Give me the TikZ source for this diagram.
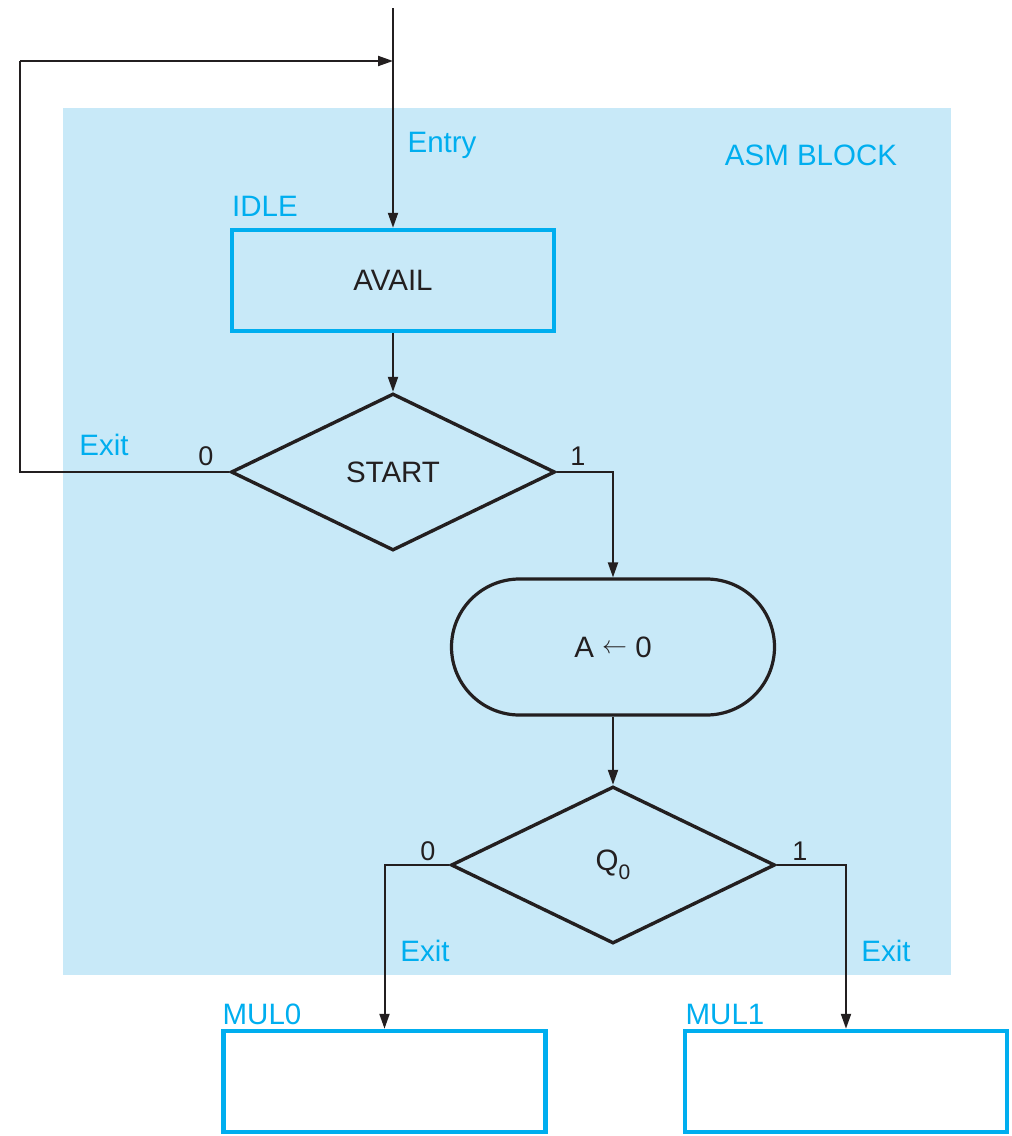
\documentclass[tikz,border=0pt]{standalone}
\usepackage{fontspec}
\setmainfont{Liberation Sans}
\usetikzlibrary{arrows.meta,shapes.geometric}
\definecolor{bgblue}{HTML}{C8E9F8}
\definecolor{cy}{HTML}{00AEEF}
\definecolor{ink}{HTML}{231F20}
\begin{document}
\begin{tikzpicture}[x=1pt,y=-1pt,
  txt/.style={font=\fontsize{29.5}{32}\selectfont, text=ink},
  cylab/.style={font=\fontsize{29.5}{32}\selectfont, text=cy, inner sep=0pt},
  numlab/.style={font=\fontsize{27}{30}\selectfont, text=ink, inner sep=0pt},
  statebox/.style={draw=cy, line width=4.5pt, minimum width=322pt, minimum height=101pt, inner sep=0pt},
  decbox/.style={draw=ink, line width=3.4pt, diamond, shape aspect=2.05, minimum width=324pt, minimum height=157pt, inner sep=0pt, txt},
  condbox/.style={draw=ink, line width=3.2pt, rounded corners=68pt, minimum width=323pt, minimum height=136pt, inner sep=0pt, txt},
  arr/.style={draw=ink, line width=2pt, -{Triangle[length=15pt,width=10pt]}},
  ln/.style={draw=ink, line width=2pt}]
\useasboundingbox (0,0) rectangle (1012,1136);
\fill[bgblue] (63,108) rectangle (951,975);

\node[statebox, txt] (idle) at (393,280.5) {AVAIL};
\node[decbox] (start) at (393,472) {START};
\node[condbox] (cond) at (613,647) {A \raisebox{0.12em}{\fontsize{25}{27}\selectfont$\leftarrow$} 0};
\node[decbox] (q) at (613,865) {Q\raisebox{-0.6ex}{\fontsize{21}{22}\selectfont 0}};
\node[statebox] (mul0) at (384.5,1081.5) {};
\node[statebox] (mul1) at (846,1081.5) {};

\coordinate (entrytop) at (393,8);
\coordinate (loopcorner) at (20,61);
\coordinate (loopend) at (393,61);

\draw[arr] (entrytop) -- (idle.north);
\draw[arr] (idle.south) -- (start.north);
\draw[ln] (start.west) -| (loopcorner);
\draw[arr] (loopcorner) -- (loopend);
\draw[arr] (start.east) -| (cond.north);
\draw[arr] (cond.south) -- (q.north);
\draw[arr] (q.west) -| (mul0.north);
\draw[arr] (q.east) -| (mul1.north);

\node[cylab] (entry) at (442,145) {Entry};
\node[cylab] (asm) at (811,155) {ASM BLOCK};
\node[cylab] (idlelab) at (265,206) {IDLE};
\node[cylab] (exit1) at (104,445) {Exit};
\node[numlab] (s0) at (206,456) {0};
\node[numlab] (s1) at (578,456) {1};
\node[numlab] (q0l) at (428,851) {0};
\node[numlab] (q1l) at (800,851) {1};
\node[cylab] (exit2) at (425,951) {Exit};
\node[cylab] (exit3) at (886,951) {Exit};
\node[cylab] (mul0lab) at (262,1014) {MUL0};
\node[cylab] (mul1lab) at (725,1014) {MUL1};
\end{tikzpicture}
\end{document}
